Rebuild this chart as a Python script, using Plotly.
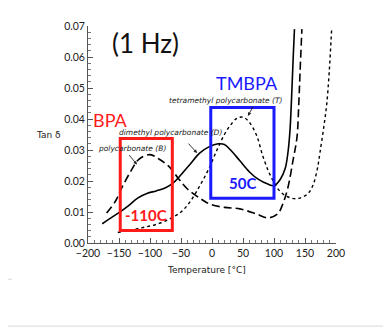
import plotly.graph_objects as go

# temperature (°C) / tan delta
temp_solid = [-177, -160, -150, -135, -120, -105, -90, -75, -62, -50, -35, -20, -5, 10, 20,
              30, 45, 60, 75, 90, 100, 110, 118, 123, 126, 129, 131, 133]
tan_solid = [0.0062, 0.0085, 0.0098, 0.012, 0.0145, 0.016, 0.0168, 0.0178, 0.0195, 0.022,
             0.0255, 0.029, 0.031, 0.032, 0.0318, 0.030, 0.0265, 0.023, 0.0205, 0.019,
             0.0185, 0.0205, 0.024, 0.030, 0.037, 0.050, 0.060, 0.069]

temp_dash = [-170, -156, -145, -132, -118, -100, -85, -68, -55, -40, -20, -3, 20, 45, 70,
             90, 106, 114, 122, 131, 137, 140, 142, 145]
tan_dash = [0.0097, 0.0134, 0.018, 0.0228, 0.027, 0.0285, 0.027, 0.0244, 0.021, 0.0175,
            0.0145, 0.0125, 0.0115, 0.011, 0.0095, 0.0081, 0.0094, 0.0125, 0.0175, 0.027,
            0.034, 0.045, 0.055, 0.069]

temp_dot = [-152, -130, -111, -90, -68, -50, -35, -19, -5, 8, 20, 29, 40, 50, 60, 72, 82,
            94, 110, 126, 140, 155, 163, 170, 174, 180, 185, 189, 193]
tan_dot = [0.0034, 0.0042, 0.005, 0.006, 0.0078, 0.010, 0.0134, 0.0187, 0.024, 0.030,
           0.035, 0.0378, 0.0402, 0.0406, 0.039, 0.0347, 0.028, 0.0219, 0.0166, 0.0146,
           0.0144, 0.016, 0.0187, 0.024, 0.029, 0.037, 0.0447, 0.055, 0.069]

# highlighted regions (temperature range, tan delta range)
bpa_box_t = [-148, -64]
bpa_box_v = [0.004, 0.0337]
tmbpa_box_t = [-2, 100]
tmbpa_box_v = [0.0144, 0.0437]

x_ticks = [-200, -150, -100, -50, 0, 50, 100, 150, 200]
y_ticks = [0.00, 0.01, 0.02, 0.03, 0.04, 0.05, 0.06, 0.07]

# the page body adds an 8px margin, so the figure is drawn 8px in from the corner
OFF = 8
W, H = 383, 322
L, R, T, B = 80, 55, 13, 87


def px(x):
    # page pixel -> paper fraction
    return (x - OFF - L) / (W - L - R)


def py(y):
    return (H - B - (y - OFF)) / (H - T - B)


fig = go.Figure()
fig.add_trace(go.Scatter(x=temp_solid, y=tan_solid, mode="lines", line_shape="spline",
                         line=dict(color="black", width=1.6)))
fig.add_trace(go.Scatter(x=temp_dash, y=tan_dash, mode="lines", line_shape="spline",
                         line=dict(color="black", width=1.6, dash="8px,4px")))
fig.add_trace(go.Scatter(x=temp_dot, y=tan_dot, mode="lines", line_shape="spline",
                         line=dict(color="black", width=1.4, dash="dot")))

fig.add_shape(type="rect", x0=bpa_box_t[0], x1=bpa_box_t[1], y0=bpa_box_v[0], y1=bpa_box_v[1],
              line=dict(color="#ff1a1a", width=3))
fig.add_shape(type="rect", x0=tmbpa_box_t[0], x1=tmbpa_box_t[1], y0=tmbpa_box_v[0],
              y1=tmbpa_box_v[1], line=dict(color="#1a1aff", width=3))

# faint slide frame lines
for x0, y0, x1, y1 in [(387, 16, 387, 280), (387, 280, 391, 280), (389, 280, 389, 330),
                       (8, 328, 391, 328), (8, 280, 12, 280)]:
    fig.add_shape(type="line", xref="paper", yref="paper", x0=px(x0), y0=py(y0),
                  x1=px(x1), y1=py(y1), line=dict(color="#d8d8d8", width=1))


def label(text, x, y, size, color="black", family="Lato", **kw):
    fig.add_annotation(text=text, xref="paper", yref="paper", x=px(x), y=py(y),
                       showarrow=False, xanchor="center", yanchor="middle",
                       font=dict(size=size, color=color, family=family), **kw)


label("(1 Hz)", 145, 38, 26, color="#111")
label("BPA", 110, 117, 18, color="#ff1a1a")
label("TMBPA", 247, 79, 18, color="#1a1aff")
label("<b>-110C</b>", 146, 214, 15, color="#ff1a1a")
label("<b>50C</b>", 242, 182, 15, color="#1a1aff")
label("Tan δ", 48, 132, 9, color="#222", family="DejaVu Sans")
label("Temperature [°C]", 206, 271, 9, color="#222", family="DejaVu Sans")

# curve labels with arrows
notes = [
    ("tetramethyl polycarbonate (T)", 226, 97, 58, 0.041, 6, -11),
    ("dimethyl polycarbonate (D)", 170, 130, -24, 0.029, -10, -11),
    ("polycarbonate (B)", 132, 146, -121, 0.0253, -9, -11),
]
for text, x, y, tx, ty, ax, ay in notes:
    label("<i>" + text + "</i>", x, y, 7.5, color="#222", family="DejaVu Sans")
    fig.add_annotation(x=tx, y=ty, xref="x", yref="y", ax=ax, ay=ay, text="",
                       showarrow=True, arrowhead=2, arrowsize=0.8, arrowwidth=0.9,
                       arrowcolor="#222")

fig.update_layout(
    width=W, height=H,
    margin=dict(l=L, r=R, t=T, b=B),
    paper_bgcolor="white", plot_bgcolor="white",
    showlegend=False,
    font=dict(family="Lato", size=10, color="#222"),
    xaxis=dict(range=[-200, 200], tickvals=x_ticks, showgrid=False, zeroline=False,
               showline=True, linecolor="#555", linewidth=1, ticks="inside",
               ticklen=5, tickcolor="#555",
               minor=dict(dtick=10, ticks="inside", ticklen=3, tickcolor="#777"),
               tickfont=dict(size=10.5, family="Lato")),
    yaxis=dict(range=[0, 0.07], tickvals=y_ticks, tickformat=".2f", showgrid=False,
               zeroline=False, showline=True, linecolor="#555", linewidth=1,
               ticks="inside", ticklen=5, tickcolor="#555",
               minor=dict(dtick=0.002, ticks="inside", ticklen=3, tickcolor="#777"),
               tickfont=dict(size=10.5, family="Lato")),
)

fig.write_html("out.html")
